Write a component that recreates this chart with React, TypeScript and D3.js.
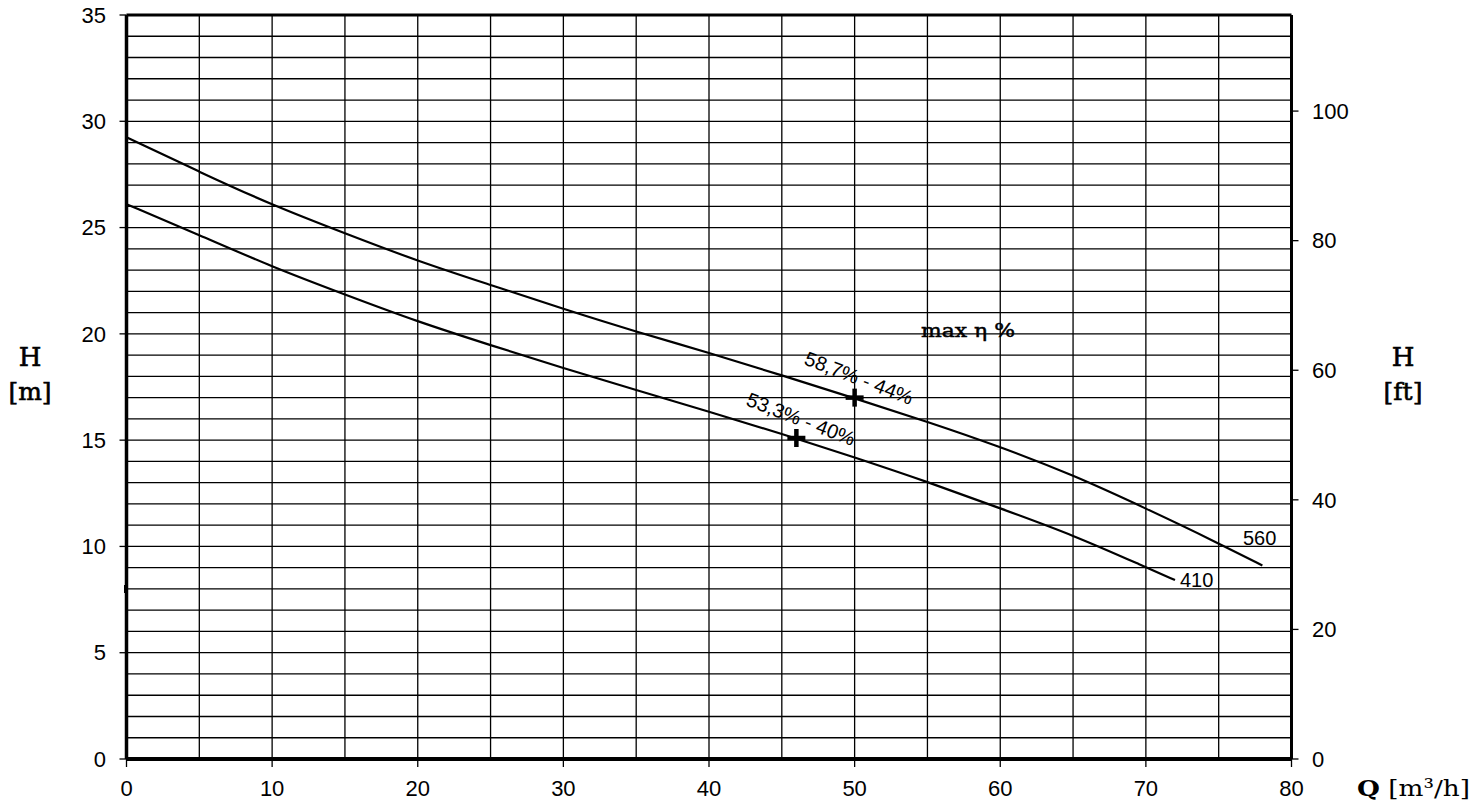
import React from 'react';
import * as d3 from 'd3';

const flowQ560 = [0, 5, 10, 15, 20, 25, 30, 35, 40, 45, 50, 55, 60, 65, 70, 75, 78];
const head560 = [29.25, 27.62, 26.06, 24.73, 23.42, 22.3, 21.17, 20.1, 19.11, 18.05, 16.97, 15.87, 14.69, 13.36, 11.79, 10.15, 9.1];
const flowQ410 = [0, 5, 10, 15, 20, 25, 30, 35, 40, 45, 50, 55, 60, 65, 70, 72];
const head410 = [26.1, 24.65, 23.15, 21.85, 20.57, 19.47, 18.38, 17.36, 16.34, 15.3, 14.19, 13.04, 11.79, 10.54, 9.02, 8.42];
const bepQ = [50, 46];
const bepH = [17.0, 15.1];
const bepLabels = ['58,7% - 44%', '53,3% - 40%'];
const curveNames = ['560', '410'];
const xTicks = [0, 10, 20, 30, 40, 50, 60, 70, 80];
const yTicksM = [0, 5, 10, 15, 20, 25, 30, 35];
const yTicksFt = [0, 20, 40, 60, 80, 100];

const M_PER_FT = 0.3048;

export default function App() {
  const W = 1478, H = 807;
  const x0 = 126.5, x1 = 1291.5, yBot = 759, yTop = 15;
  const x = d3.scaleLinear().domain([0, 80]).range([x0, x1]);
  const y = d3.scaleLinear().domain([0, 35]).range([yBot, yTop]);
  const yFt = d3.scaleLinear().domain([0, 35 / M_PER_FT]).range([yBot, yTop]);

  const line = d3.line<[number, number]>().x(d => x(d[0])).y(d => y(d[1])).curve(d3.curveBasis);
  const d560 = line(flowQ560.map((q, i) => [q, head560[i]] as [number, number])) || '';
  const d410 = line(flowQ410.map((q, i) => [q, head410[i]] as [number, number])) || '';

  const hGrid = d3.range(1, 35);
  const vGrid = d3.range(5, 80, 5);

  const sans = '"Liberation Sans", Arial, sans-serif';
  const serif = '"DejaVu Serif", serif';

  const labelPos = [
    { x: 803, y: 364 },
    { x: 745, y: 405 },
  ];

  return (
    <svg width={W} height={H} style={{ position: 'absolute', left: 0, top: 0, background: '#fff' }}>
      <rect x={0} y={0} width={W} height={H} fill="#fff" />
      {/* grid */}
      {hGrid.map(v => (
        <line key={'h' + v} x1={x0} x2={x1} y1={y(v)} y2={y(v)} stroke="#000" strokeWidth={1.3} />
      ))}
      {vGrid.map(v => (
        <line key={'v' + v} x1={x(v)} x2={x(v)} y1={yTop} y2={yBot} stroke="#000" strokeWidth={1.3} />
      ))}
      {/* frame */}
      <line x1={x0} x2={x1} y1={yTop} y2={yTop} stroke="#000" strokeWidth={3} />
      <line x1={x0} x2={x1} y1={yBot} y2={yBot} stroke="#000" strokeWidth={4} />
      <line x1={x0} x2={x0} y1={yTop} y2={yBot} stroke="#000" strokeWidth={3.5} />
      <line x1={x1} x2={x1} y1={yTop} y2={yBot} stroke="#000" strokeWidth={3} />
      {/* left ticks */}
      {yTicksM.map(v => (
        <g key={'lm' + v}>
          <line x1={x0 - 7} x2={x0} y1={y(v)} y2={y(v)} stroke="#000" strokeWidth={1.3} />
          <text x={106} y={y(v)} dy="0.35em" textAnchor="end" fontFamily={sans} fontSize={22}>{v}</text>
        </g>
      ))}
      {/* right ticks */}
      {yTicksFt.map(v => (
        <g key={'rf' + v}>
          <line x1={x1} x2={x1 + 7} y1={yFt(v)} y2={yFt(v)} stroke="#000" strokeWidth={1.3} />
          <text x={1312} y={yFt(v)} dy="0.35em" textAnchor="start" fontFamily={sans} fontSize={22}>{v}</text>
        </g>
      ))}
      {/* bottom ticks */}
      {xTicks.map(v => (
        <g key={'bx' + v}>
          <line x1={x(v)} x2={x(v)} y1={yBot} y2={yBot + 8} stroke="#000" strokeWidth={1.3} />
          <text x={x(v)} y={796} textAnchor="middle" fontFamily={sans} fontSize={22}>{v}</text>
        </g>
      ))}
      {/* small mark on left axis */}
      <line x1={x0 - 1} x2={x0 - 1} y1={585} y2={593} stroke="#000" strokeWidth={3} />
      {/* curves */}
      <path d={d560} fill="none" stroke="#000" strokeWidth={2.2} />
      <path d={d410} fill="none" stroke="#000" strokeWidth={2.2} />
      {/* BEP crosses */}
      {bepQ.map((q, i) => (
        <g key={'bep' + i}>
          <line x1={x(q) - 9} x2={x(q) + 9} y1={y(bepH[i])} y2={y(bepH[i])} stroke="#000" strokeWidth={4.5} />
          <line x1={x(q)} x2={x(q)} y1={y(bepH[i]) - 9} y2={y(bepH[i]) + 9} stroke="#000" strokeWidth={4.5} />
          <text
            x={labelPos[i].x}
            y={labelPos[i].y}
            transform={`rotate(21 ${labelPos[i].x} ${labelPos[i].y})`}
            fontFamily={sans}
            fontSize={20}
          >
            {bepLabels[i]}
          </text>
        </g>
      ))}
      {/* curve names */}
      <text x={1243} y={545} fontFamily={sans} fontSize={20}>{curveNames[0]}</text>
      <text x={1180} y={587} fontFamily={sans} fontSize={20}>{curveNames[1]}</text>
      {/* max eta */}
      <text x={921} y={337} fontFamily={serif} fontSize={19} stroke="#000" strokeWidth={0.5} textLength={94} lengthAdjust="spacingAndGlyphs">max η %</text>
      {/* axis titles */}
      <g stroke="#000" strokeWidth={0.6}>
        <text x={30} y={366} textAnchor="middle" fontFamily={serif} fontSize={26}>H</text>
        <text x={30} y={400} textAnchor="middle" fontFamily={serif} fontSize={25}>[m]</text>
        <text x={1403} y={366} textAnchor="middle" fontFamily={serif} fontSize={26}>H</text>
        <text x={1403} y={400} textAnchor="middle" fontFamily={serif} fontSize={25}>[ft]</text>
      </g>
      <text x={1357} y={796} fontFamily={serif} fontSize={23} textLength={113} lengthAdjust="spacingAndGlyphs">
        <tspan fontWeight="bold">Q</tspan> [m³/h]
      </text>
    </svg>
  );
}
